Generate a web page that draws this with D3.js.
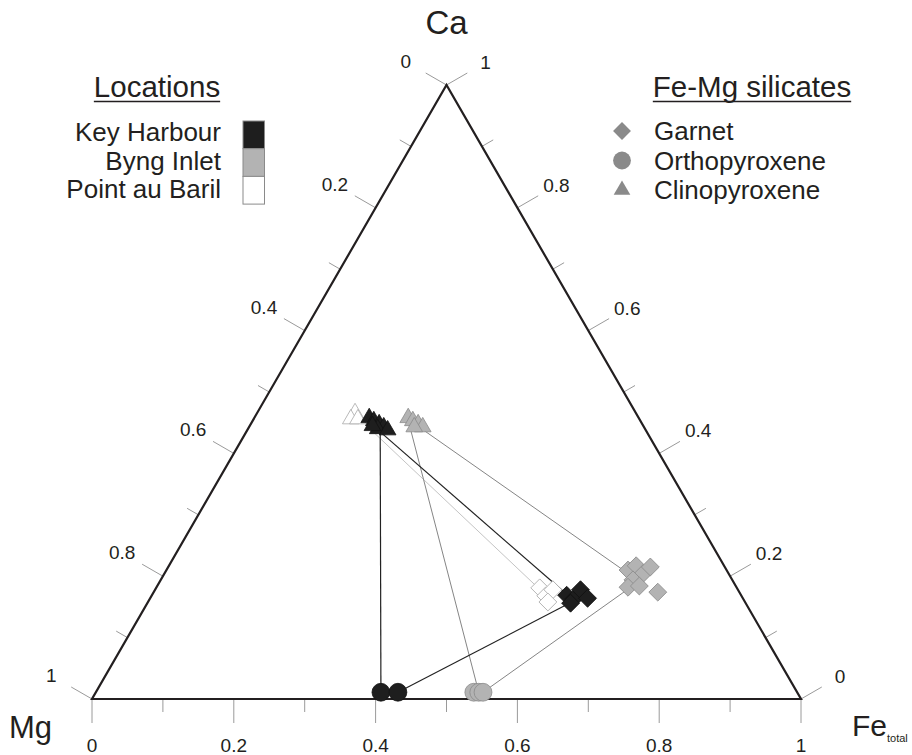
<!DOCTYPE html>
<html>
<head>
<meta charset="utf-8">
<script src="https://cdn.jsdelivr.net/npm/d3@7"></script>
<style>
  html, body { margin: 0; padding: 0; background: #fff; }
  svg { display: block; font-family: "Liberation Sans", Arial, sans-serif; }
</style>
</head>
<body>
<svg id="chart" width="912" height="755"></svg>
<script>
// Ternary compositions are given as [Ca, Fe]; Mg = 1 - Ca - Fe.
const locations = ["Key Harbour", "Byng Inlet", "Point au Baril"];
const minerals = ["Garnet", "Orthopyroxene", "Clinopyroxene"];

const cpxKeyHarbour = [[0.458, 0.162], [0.453, 0.171], [0.448, 0.181], [0.443, 0.190], [0.440, 0.183], [0.438, 0.198], [0.445, 0.173]];
const cpxByngInlet = [[0.458, 0.217], [0.453, 0.226], [0.448, 0.236], [0.443, 0.245], [0.443, 0.233]];
const cpxPointAuBaril = [[0.466, 0.138], [0.456, 0.137], [0.456, 0.147]];

const grtKeyHarbour = [[0.169, 0.585], [0.163, 0.598], [0.178, 0.600], [0.164, 0.617], [0.156, 0.597]];
const grtByngInlet = [[0.210, 0.651], [0.217, 0.659], [0.204, 0.675], [0.215, 0.680], [0.194, 0.666], [0.182, 0.665], [0.184, 0.680], [0.174, 0.711]];
const grtPointAuBaril = [[0.181, 0.541], [0.168, 0.556], [0.178, 0.561], [0.158, 0.564]];

const opxKeyHarbour = [[0.011, 0.402], [0.011, 0.426]];
const opxByngInlet = [[0.011, 0.533], [0.011, 0.540], [0.011, 0.546]];

// Tie lines between coexisting phases: [location, from [Ca, Fe], to [Ca, Fe]]
const tieLines = [
  ["Point au Baril", [0.445, 0.165], [0.178, 0.543]],
  ["Byng Inlet", [0.440, 0.245], [0.205, 0.653]],
  ["Byng Inlet", [0.436, 0.232], [0.011, 0.540]],
  ["Byng Inlet", [0.011, 0.546], [0.181, 0.668]],
  ["Key Harbour", [0.435, 0.189], [0.011, 0.402]],
  ["Key Harbour", [0.435, 0.189], [0.166, 0.591]],
  ["Key Harbour", [0.011, 0.426], [0.160, 0.600]]
];

const majorTicks = [0, 0.2, 0.4, 0.6, 0.8, 1];
const minorTicks = [0.1, 0.3, 0.5, 0.7, 0.9];
const tickLabels = ["0", "0.2", "0.4", "0.6", "0.8", "1"];

const svg = d3.select("#chart");
const ink = "#231f20";

// Horizontal position runs along the Mg–Fe base; vertical is the Ca height.
const xScale = d3.scaleLinear().domain([0, 1]).range([92, 801]);
const yScale = d3.scaleLinear().domain([0, 1]).range([699, 85]);
const px = (ca, fe) => [xScale(fe + ca / 2), yScale(ca)];

const style = {
  "Key Harbour": { fill: "#1e1e1e", stroke: "#111", line: "#222", lw: 1.2 },
  "Byng Inlet": { fill: "#b3b3b3", stroke: "#8a8a8a", line: "#858585", lw: 1.0 },
  "Point au Baril": { fill: "#ffffff", stroke: "#a8a8a8", line: "#c4c4c4", lw: 1.0 }
};

// Axis ticks and labels
const axes = [
  { at: t => px(0, t), normal: [0, 1], labelDist: 46 },
  { at: t => px(1 - t, 0), normal: [-0.866, -0.5], labelDist: 47 },
  { at: t => px(t, 1 - t), normal: [0.866, -0.5], labelDist: 45 }
];
const tickG = svg.append("g");
axes.forEach(ax => {
  majorTicks.forEach((t, i) => {
    const [x, y] = ax.at(t);
    tickG.append("line")
      .attr("x1", x).attr("y1", y)
      .attr("x2", x + ax.normal[0] * 24).attr("y2", y + ax.normal[1] * 24)
      .attr("stroke", "#9a9a9a").attr("stroke-width", 1);
    tickG.append("text")
      .attr("x", x + ax.normal[0] * ax.labelDist)
      .attr("y", y + ax.normal[1] * ax.labelDist)
      .attr("text-anchor", "middle").attr("dominant-baseline", "central")
      .attr("font-size", 19).attr("fill", ink)
      .text(tickLabels[i]);
  });
  minorTicks.forEach(t => {
    const [x, y] = ax.at(t);
    tickG.append("line")
      .attr("x1", x).attr("y1", y)
      .attr("x2", x + ax.normal[0] * 13).attr("y2", y + ax.normal[1] * 13)
      .attr("stroke", "#9a9a9a").attr("stroke-width", 1);
  });
});

// Triangle frame
const corners = [px(0, 0), px(0, 1), px(1, 0)];
svg.append("path")
  .attr("d", d3.line()(corners) + "Z")
  .attr("fill", "none").attr("stroke", ink).attr("stroke-width", 2.2)
  .attr("stroke-linejoin", "miter");

// Vertex labels
svg.append("text").attr("x", px(1, 0)[0]).attr("y", 34)
  .attr("text-anchor", "middle").attr("font-size", 33).attr("fill", ink).text("Ca");
svg.append("text").attr("x", 9).attr("y", 738)
  .attr("font-size", 31).attr("fill", ink).text("Mg");
const feLabel = svg.append("text").attr("x", 852).attr("y", 736)
  .attr("font-size", 30).attr("fill", ink);
feLabel.append("tspan").text("Fe");
feLabel.append("tspan").attr("font-size", 11).attr("dy", 6).text("total");

// Tie lines
svg.append("g").selectAll("line").data(tieLines).join("line")
  .attr("x1", d => px(...d[1])[0]).attr("y1", d => px(...d[1])[1])
  .attr("x2", d => px(...d[2])[0]).attr("y2", d => px(...d[2])[1])
  .attr("stroke", d => style[d[0]].line)
  .attr("stroke-width", d => style[d[0]].lw);

// Symbols
const symGen = {
  Garnet: d3.symbol(d3.symbolSquare, 160),
  Orthopyroxene: d3.symbol(d3.symbolCircle, 250),
  Clinopyroxene: d3.symbol(d3.symbolTriangle, 120)
};
const rot = { Garnet: 45, Orthopyroxene: 0, Clinopyroxene: 0 };

const groups = [
  ["Point au Baril", "Garnet", grtPointAuBaril],
  ["Point au Baril", "Clinopyroxene", cpxPointAuBaril],
  ["Byng Inlet", "Garnet", grtByngInlet],
  ["Byng Inlet", "Clinopyroxene", cpxByngInlet],
  ["Byng Inlet", "Orthopyroxene", opxByngInlet],
  ["Key Harbour", "Garnet", grtKeyHarbour],
  ["Key Harbour", "Clinopyroxene", cpxKeyHarbour],
  ["Key Harbour", "Orthopyroxene", opxKeyHarbour]
];
const markG = svg.append("g");
groups.forEach(([loc, min, pts]) => {
  markG.append("g").selectAll("path").data(pts).join("path")
    .attr("d", symGen[min])
    .attr("transform", d => {
      const [x, y] = px(d[0], d[1]);
      return `translate(${x},${y}) rotate(${rot[min]})`;
    })
    .attr("fill", style[loc].fill)
    .attr("stroke", style[loc].stroke)
    .attr("stroke-width", 0.8);
});

// Underlined legend heading
function heading(g, x, y, label) {
  const t = g.append("text").attr("x", x).attr("y", y).attr("text-anchor", "middle")
    .attr("font-size", 29.5).attr("fill", ink).text(label);
  const w = t.node().getComputedTextLength();
  g.append("line").attr("x1", x - w / 2).attr("x2", x + w / 2)
    .attr("y1", y + 4.5).attr("y2", y + 4.5)
    .attr("stroke", ink).attr("stroke-width", 1.4);
}

// Legend: locations
const locG = svg.append("g");
heading(locG, 157, 97, "Locations");
locations.forEach((loc, i) => {
  locG.append("text").attr("x", 221).attr("y", 141 + i * 28.5).attr("text-anchor", "end")
    .attr("font-size", 26).attr("fill", ink).text(loc);
  locG.append("rect").attr("x", 243).attr("y", 121 + i * 27.7).attr("width", 21.5).attr("height", 27.7)
    .attr("fill", style[loc].fill).attr("stroke", "#8a8a8a").attr("stroke-width", 1);
});

// Legend: minerals
const minG = svg.append("g");
heading(minG, 752, 97, "Fe-Mg silicates");
minerals.forEach((m, i) => {
  const y = 131 + i * 29.5;
  minG.append("path").attr("d", symGen[m])
    .attr("transform", `translate(622,${y}) rotate(${rot[m]})`)
    .attr("fill", "#8a8a8a");
  minG.append("text").attr("x", 654).attr("y", y + 9)
    .attr("font-size", 26).attr("fill", ink).text(m);
});
</script>
</body>
</html>
